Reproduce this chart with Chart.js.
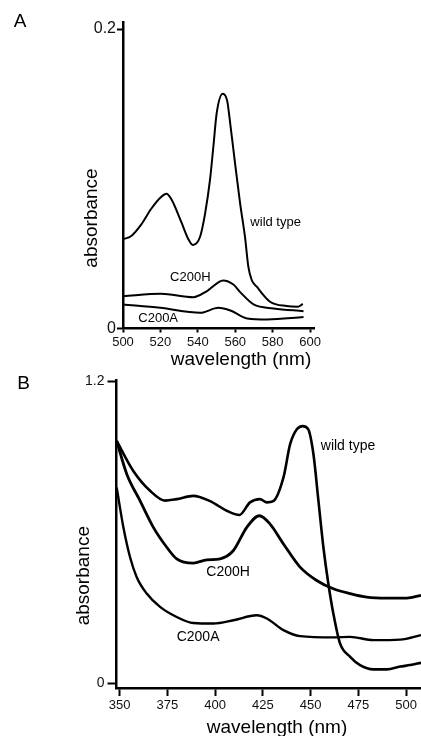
<!DOCTYPE html>
<html><head><meta charset="utf-8">
<script src="https://cdn.jsdelivr.net/npm/chart.js@4/dist/chart.umd.min.js"></script>
<style>
html,body{margin:0;padding:0;background:#fff;width:421px;height:736px;overflow:hidden}
canvas{position:absolute;left:0}
</style></head><body>
<canvas id="a" width="421" height="385" style="top:0;width:421px;height:385px"></canvas>
<canvas id="b" width="421" height="368" style="top:368px;width:421px;height:368px"></canvas>
<script>
// ---------- Panel A data (visible region, 500-600 nm) ----------
const wlA_wild  = [500, 504.4, 509.8, 515.1, 520.5, 523.2, 525.8, 531.2, 534.8, 537.3, 541.2, 543.9, 546.5, 548.3, 550.1, 553.3, 555.7, 557.3, 559.9, 562.6, 565.2, 567, 568.8, 571.5, 578.6, 587.5, 593.7, 596.1];
const absA_wild = [0.0596, 0.0618, 0.0696, 0.0800, 0.0880, 0.0900, 0.0865, 0.0710, 0.0600, 0.0558, 0.0613, 0.0769, 0.0992, 0.1214, 0.1440, 0.1568, 0.1520, 0.137, 0.1103, 0.0836, 0.0613, 0.0413, 0.0324, 0.0279, 0.0179, 0.015, 0.0146, 0.0164];
const wlA_h     = [500, 520.4, 537.6, 544.9, 553.5, 559, 562.8, 569.8, 580.5, 596.5];
const absA_h    = [0.0216, 0.0232, 0.0209, 0.025, 0.0321, 0.0294, 0.0241, 0.0161, 0.0134, 0.0116];
const wlA_a     = [500, 519.9, 541.3, 551, 557.4, 566.4, 577.1, 596.5];
const absA_a    = [0.0161, 0.0138, 0.0105, 0.0138, 0.012, 0.0067, 0.006, 0.0076];
const xTicksA = [500, 520, 540, 560, 580, 600];
const yTicksA = [0, 0.2];

// ---------- Panel B data (visible region, 350-508 nm) ----------
const wlB_wild  = [348.5, 357.2, 366.0, 373.8, 379.9, 388.6, 397.4, 406.1, 412.7, 418.3, 423.5, 427.1, 430.5, 435.8, 439.3, 442.8, 445.9, 448.8, 451.5, 454.1, 456.7, 459.3, 461.9, 465.4, 470.7, 475.9, 482.9, 489.9, 496.9, 502.1, 507.8];
const absB_wild = [0.963, 0.844, 0.765, 0.726, 0.732, 0.745, 0.724, 0.686, 0.669, 0.719, 0.732, 0.719, 0.724, 0.818, 0.950, 1.009, 1.022, 1.009, 0.910, 0.726, 0.541, 0.396, 0.278, 0.159, 0.106, 0.073, 0.056, 0.056, 0.067, 0.073, 0.082];
const wlB_h     = [348.5, 353.8, 360.7, 367.7, 374.7, 379.9, 388.6, 395.7, 402.6, 409.6, 416.6, 423.2, 428.8, 435.8, 444.5, 453.2, 461.9, 470.7, 479.4, 489.9, 500.4, 507.8];
const absB_h    = [0.963, 0.831, 0.726, 0.620, 0.541, 0.495, 0.478, 0.491, 0.495, 0.528, 0.620, 0.666, 0.633, 0.554, 0.462, 0.409, 0.376, 0.357, 0.343, 0.339, 0.339, 0.350];
const wlB_a     = [348.5, 352.0, 355.5, 359.0, 364.2, 371.2, 379.9, 388.6, 399.1, 409.6, 421.8, 427.1, 435.8, 444.5, 461.9, 470.7, 482.9, 496.9, 507.8];
const absB_a    = [0.778, 0.620, 0.501, 0.422, 0.357, 0.304, 0.264, 0.240, 0.238, 0.251, 0.271, 0.258, 0.212, 0.188, 0.183, 0.185, 0.172, 0.174, 0.192];
const xTicksB = [350, 375, 400, 425, 450, 475, 500];
const yTicksB = [0, 1.2];

const seriesNames = ['wild type', 'C200H', 'C200A'];
const FONT = "'Liberation Sans', Arial, Helvetica, sans-serif";

function pts(xs, ys){ return xs.map((x,i)=>({x:x, y:ys[i]})); }

function textPlugin(o){
  return {
    id:'txt',
    afterDraw(chart){
      const ctx = chart.ctx, xs = chart.scales.x, ys = chart.scales.y;
      ctx.save();
      ctx.fillStyle = '#000';
      ctx.textAlign = 'center';
      ctx.textBaseline = 'middle';
      ctx.font = '19px ' + FONT;
      ctx.fillText(o.letter, o.letterPos[0], o.letterPos[1]);
      ctx.font = '19px ' + FONT;
      ctx.fillText('wavelength (nm)', o.xTitlePos[0], o.xTitlePos[1]);
      ctx.save();
      ctx.translate(o.yTitlePos[0], o.yTitlePos[1]);
      ctx.rotate(-Math.PI/2);
      ctx.font = '19px ' + FONT;
      ctx.fillText('absorbance', 0, 0);
      ctx.restore();
      ctx.font = o.labelFont + 'px ' + FONT;
      o.labels.forEach(l=>{
        ctx.fillText(l.t, xs.getPixelForValue(l.x), ys.getPixelForValue(l.y));
      });
      ctx.restore();
    }
  };
}

function makeChart(id, o){
  const ds = o.series.map((s,i)=>({
    label: seriesNames[i], data: pts(s[0], s[1]),
    borderColor:'#000', borderWidth: o.lineW[i], pointRadius:0,
    cubicInterpolationMode:'monotone', fill:false
  }));
  return new Chart(document.getElementById(id), {
    type:'line',
    data:{datasets: ds},
    options:{
      responsive:false, animation:false, devicePixelRatio:1,
      layout:{padding:{left:0, top:o.area.top, right:421 - o.area.right, bottom:0}},
      plugins:{legend:{display:false}, tooltip:{enabled:false}},
      scales:{
        x:{type:'linear', min:o.xMin, max:o.xMax,
          afterFit(s){ s.height = o.canvasH - o.area.bottom; },
          afterBuildTicks(s){ s.ticks = o.xTicks.map(v=>({value:v})); },
          grid:{drawOnChartArea:false, drawTicks:true, tickLength:o.xTickLen, tickWidth:2, tickColor:'#000'},
          border:{display:true, color:'#000', width:2.5},
          ticks:{color:'#111', font:{family:FONT, size:13}, padding:o.xTickPad, maxRotation:0, autoSkip:false, callback:v=>String(v)}
        },
        y:{type:'linear', min:o.yMin, max:o.yMax,
          afterFit(s){ s.width = o.area.left; },
          afterBuildTicks(s){ s.ticks = o.yTicks.map(v=>({value:v})); },
          grid:{drawOnChartArea:false, drawTicks:true, tickLength:o.yTickLen, tickWidth:2, tickColor:'#000'},
          border:{display:true, color:'#000', width:2.5},
          ticks:{color:'#111', font:{family:FONT, size:o.yTickSize}, padding:o.yTickPad, autoSkip:false, callback:v=>String(v)}
        }
      }
    },
    plugins:[textPlugin(o)]
  });
}

makeChart('a', {
  series:[[wlA_wild, absA_wild],[wlA_h, absA_h],[wlA_a, absA_a]],
  lineW:[2, 2, 2],
  canvasH:385,
  area:{left:123, right:314, top:22, bottom:328.5},
  xMin:500, xMax:602.1, yMin:0, yMax:0.2047,
  xTicks:xTicksA, yTicks:yTicksA,
  xTickLen:4, xTickPad:2, yTickLen:6, yTickPad:1, yTickSize:16,
  letter:'A', letterPos:[20,22], xTitlePos:[241,360], yTitlePos:[92,218],
  labelFont:13,
  labels:[{t:'wild type', x:581.6, y:0.0709},{t:'C200H', x:536, y:0.0341},{t:'C200A', x:518.8, y:0.0067}]
});

makeChart('b', {
  series:[[wlB_wild, absB_wild],[wlB_h, absB_h],[wlB_a, absB_a]],
  lineW:[2.6, 2.8, 2.4],
  canvasH:368,
  area:{left:116.5, right:421, top:12, bottom:320},
  xMin:348.4, xMax:507.8, yMin:-0.018, yMax:1.205,
  xTicks:xTicksB, yTicks:yTicksB,
  xTickLen:8, xTickPad:2, yTickLen:9, yTickPad:3, yTickSize:14,
  letter:'B', letterPos:[23.5,16], xTitlePos:[277,360], yTitlePos:[84,207.7],
  labelFont:14,
  labels:[{t:'wild type', x:469.6, y:0.943},{t:'C200H', x:406.8, y:0.441},{t:'C200A', x:391.1, y:0.184}]
});
</script>
</body></html>
